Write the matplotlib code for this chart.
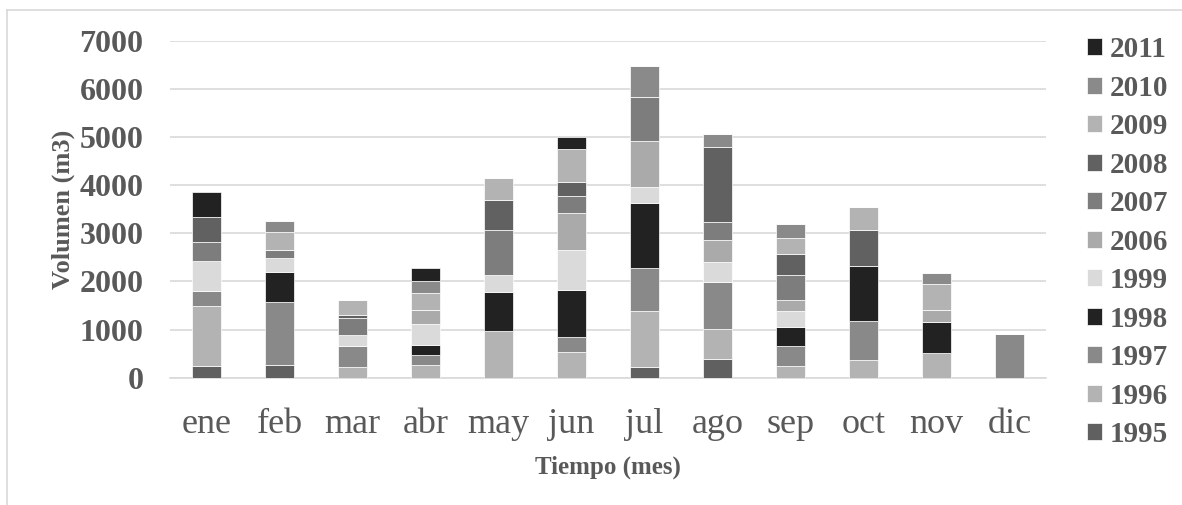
import matplotlib
matplotlib.use('Agg')
import matplotlib.pyplot as plt
import numpy as np

months = ['ene', 'feb', 'mar', 'abr', 'may', 'jun', 'jul', 'ago', 'sep', 'oct', 'nov', 'dic']
years = ['1995', '1996', '1997', '1998', '1999', '2006', '2007', '2008', '2009', '2010', '2011']

v1995 = [249, 263, 0, 0, 0, 0, 229, 388, 0, 0, 0, 0]
v1996 = [1247, 0, 222, 263, 963, 526, 1157, 616, 242, 367, 519, 0]
v1997 = [311, 1309, 429, 201, 0, 312, 900, 990, 422, 803, 0, 907]
v1998 = [0, 616, 0, 222, 817, 976, 1350, 0, 395, 1150, 637, 0]
v1999 = [624, 305, 235, 429, 353, 838, 325, 402, 325, 0, 0, 0]
v2006 = [0, 0, 0, 284, 0, 769, 956, 464, 229, 0, 242, 0]
v2007 = [388, 166, 353, 0, 935, 346, 907, 374, 512, 0, 0, 0]
v2008 = [512, 0, 69, 0, 616, 298, 0, 1565, 443, 748, 0, 0]
v2009 = [0, 367, 298, 367, 471, 679, 0, 0, 332, 471, 547, 0]
v2010 = [0, 229, 0, 242, 0, 0, 658, 256, 291, 0, 235, 0]
v2011 = [519, 0, 0, 277, 0, 256, 0, 0, 0, 0, 0, 0]

series = [v1995, v1996, v1997, v1998, v1999, v2006, v2007, v2008, v2009, v2010, v2011]
colors = ['#606060', '#b3b3b3', '#898989', '#222222', '#dadada', '#aaaaaa',
          '#7d7d7d', '#616161', '#b3b3b3', '#8a8a8a', '#222222']

plt.rcParams['font.family'] = ['Liberation Serif', 'DejaVu Serif']
txt = '#595959'
grid = '#d9d9d9'

fig = plt.figure(figsize=(11.82, 5.05), dpi=100)
ax = fig.add_axes([0.1438, 0.2521, 0.7411, 0.6673])

x = np.arange(len(months))
bottom = np.zeros(len(months))
handles = []
for yr, vals, c in zip(years, series, colors):
    b = ax.bar(x, vals, 0.4, bottom=bottom, color=c, edgecolor='white',
               linewidth=0.5, label=yr, zorder=3)
    handles.append(b)
    bottom += np.array(vals)

ax.set_xlim(-0.5, 11.5)
ax.set_ylim(0, 7000)
ax.set_yticks(range(0, 7001, 1000))
ax.set_xticks(x)
ax.set_xticklabels(months, fontsize=26, color=txt)
ax.tick_params(axis='x', length=0, pad=22)
ax.tick_params(axis='y', length=0, pad=19, labelsize=23, labelcolor=txt)
for lab in ax.get_yticklabels():
    lab.set_fontweight('bold')
ax.yaxis.grid(True, color=grid, linewidth=1.2, zorder=0)
for s in ['top', 'right', 'left']:
    ax.spines[s].set_visible(False)
ax.spines['bottom'].set_color(grid)
ax.spines['bottom'].set_linewidth(1.2)

ax.set_xlabel('Tiempo (mes)', fontsize=18, fontweight='bold', color=txt, labelpad=10)
ax.set_ylabel('Volumen (m3)', fontsize=19, fontweight='bold', color=txt, labelpad=3)

leg = fig.legend(handles[::-1], years[::-1], loc='upper left',
                 bbox_to_anchor=(1087 / 1182, 1 - 36 / 505), frameon=False,
                 prop={'size': 21, 'weight': 'bold'}, labelspacing=0.395,
                 handlelength=0.52, handleheight=0.52, handletextpad=0.25,
                 borderaxespad=0, borderpad=0)
for t in leg.get_texts():
    t.set_color(txt)

# light outer frame (top and left edges are visible in the source)
fig.add_artist(plt.Line2D([7 / 1182, 1], [1 - 10 / 505, 1 - 10 / 505],
                          color=grid, linewidth=1.2, transform=fig.transFigure))
fig.add_artist(plt.Line2D([7 / 1182, 7 / 1182], [0, 1 - 10 / 505],
                          color=grid, linewidth=1.2, transform=fig.transFigure))

fig.savefig('out.png', dpi=100)
